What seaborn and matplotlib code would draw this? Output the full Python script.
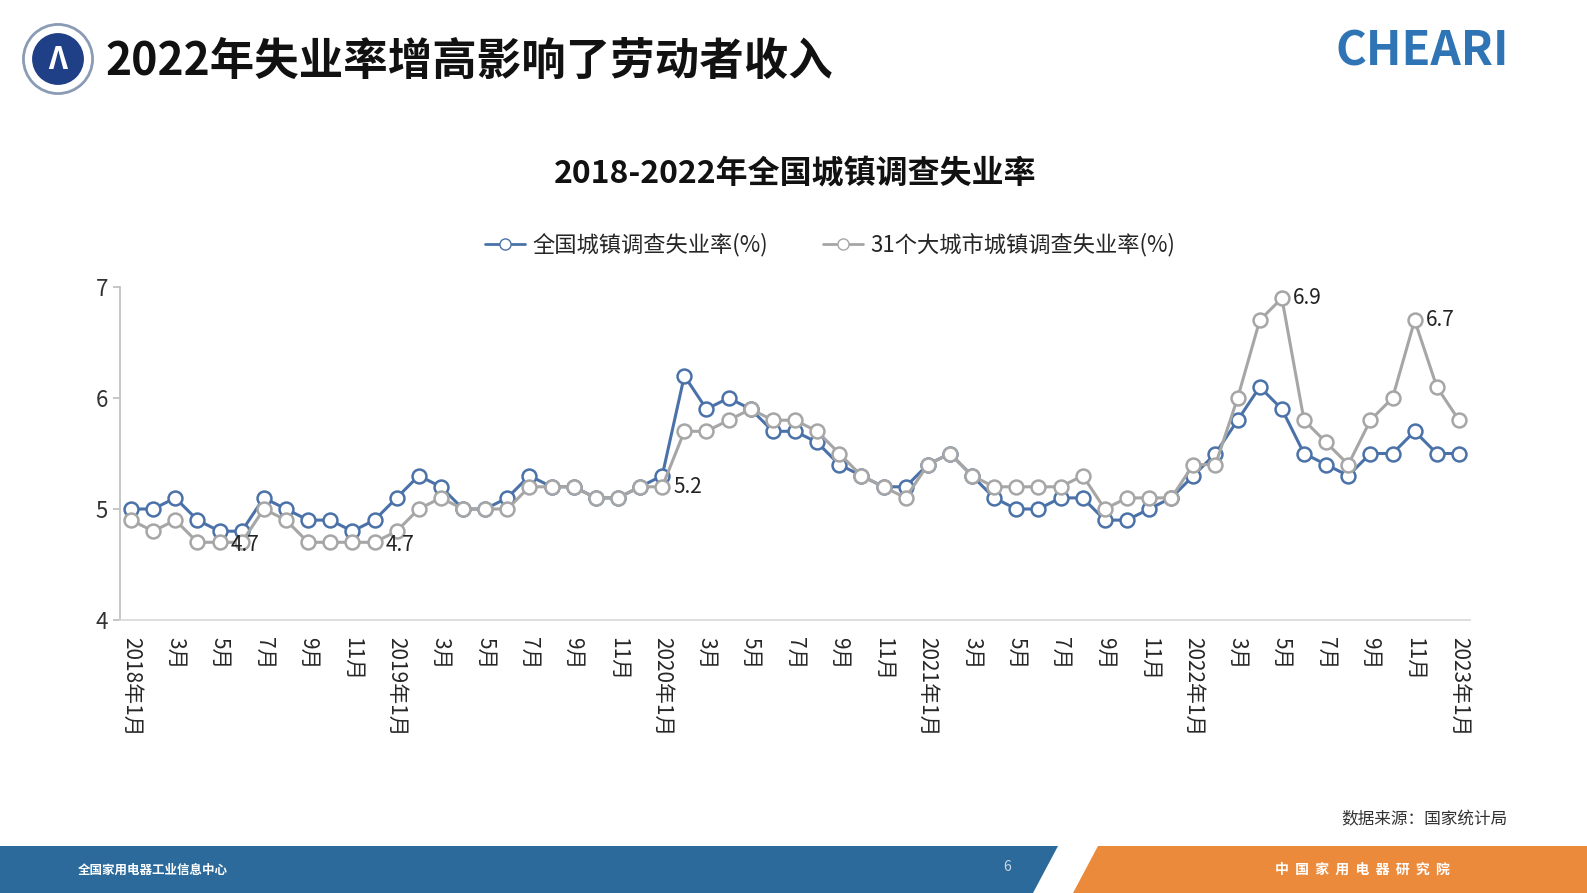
import matplotlib
matplotlib.use("Agg")
import matplotlib.pyplot as plt
import seaborn as sns
import pandas as pd
from matplotlib.patches import Polygon, Circle
from matplotlib.lines import Line2D

sns.set_theme(style="white")
plt.rcParams['font.family'] = ['Noto Sans CJK SC', 'DejaVu Sans']

national = [5.0,5.0,5.1,4.9,4.8,4.8,5.1,5.0,4.9,4.9,4.8,4.9,
            5.1,5.3,5.2,5.0,5.0,5.1,5.3,5.2,5.2,5.1,5.1,5.2,
            5.3,6.2,5.9,6.0,5.9,5.7,5.7,5.6,5.4,5.3,5.2,5.2,
            5.4,5.5,5.3,5.1,5.0,5.0,5.1,5.1,4.9,4.9,5.0,5.1,
            5.3,5.5,5.8,6.1,5.9,5.5,5.4,5.3,5.5,5.5,5.7,5.5,
            5.5]
cities = [4.9,4.8,4.9,4.7,4.7,4.7,5.0,4.9,4.7,4.7,4.7,4.7,
          4.8,5.0,5.1,5.0,5.0,5.0,5.2,5.2,5.2,5.1,5.1,5.2,
          5.2,5.7,5.7,5.8,5.9,5.8,5.8,5.7,5.5,5.3,5.2,5.1,
          5.4,5.5,5.3,5.2,5.2,5.2,5.2,5.3,5.0,5.1,5.1,5.1,
          5.4,5.4,6.0,6.7,6.9,5.8,5.6,5.4,5.8,6.0,6.7,6.1,
          5.8]
tick_labels = []
for i in range(61):
    y, m = 2018 + i // 12, i % 12 + 1
    if i % 2 == 0:
        tick_labels.append(f"{y}年{m}月" if m == 1 else f"{m}月")
labels = {4: "4.7", 11: "4.7", 24: "5.2", 52: "6.9", 58: "6.7"}
name_n = "全国城镇调查失业率(%)"
name_c = "31个大城市城镇调查失业率(%)"

df = pd.DataFrame({"idx": list(range(61)) * 2,
                   "val": national + cities,
                   "series": [name_n] * 61 + [name_c] * 61})

fig = plt.figure(figsize=(15.87, 8.93), dpi=100)
W, H = 1587, 893
ax = fig.add_axes([120/W, 1-620/H, 1350/W, 333/H])
blue, grey = "#4a72a8", "#a6a6a6"
sns.lineplot(data=df, x="idx", y="val", hue="series", palette=[blue, grey],
             hue_order=[name_n, name_c], marker="o", markersize=10,
             markerfacecolor="white", markeredgewidth=1.8, linewidth=2.2,
             ax=ax, legend=False)
for ln, c in zip(ax.get_lines(), [blue, grey]):
    ln.set_markeredgecolor(c)
for i, t in labels.items():
    ax.text(i + 0.5, cities[i] - (0.02 if cities[i] < 5 else 0), t, fontsize=15,
            va="center", ha="left", color="#222222")
ax.set_xlim(-0.5, 60.5)
ax.set_ylim(4, 7)
ax.set_yticks([4, 5, 6, 7])
ax.set_xticks(range(0, 61, 2))
ax.set_xticklabels(tick_labels, rotation=-90, fontsize=15, va="top", ha="center")
ax.tick_params(axis="y", labelsize=16, length=5, left=True, color="#bfbfbf")
ax.tick_params(axis="x", pad=6)
ax.set_xlabel(""); ax.set_ylabel("")
for s in ["top", "right"]:
    ax.spines[s].set_visible(False)
ax.spines["left"].set_color("#bfbfbf")
ax.spines["bottom"].set_color("#d9d9d9")
for lab in ax.get_yticklabels():
    lab.set_color("#333333")

h = [Line2D([], [], color=blue, marker="o", mfc="white", mec=blue, lw=2, ms=8),
     Line2D([], [], color=grey, marker="o", mfc="white", mec=grey, lw=2, ms=8)]
fig.legend(h, [name_n, name_c], loc="center", bbox_to_anchor=(830/W, 1-245/H),
           ncol=2, frameon=False, fontsize=16, handlelength=1.8, columnspacing=2.5,
           handletextpad=0.3)

fig.text(795/W, 1-174/H, "2018-2022年全国城镇调查失业率", fontsize=23, fontweight="bold",
         ha="center", va="center", color="#111111")
fig.text(105/W, 1-62/H, "2022年失业率增高影响了劳动者收入", fontsize=32, fontweight="bold",
         ha="left", va="center", color="#111111")
lax = fig.add_axes([22/W, 1-95/H, 72/W, 72/H]); lax.set_axis_off()
lax.add_patch(Circle((0.5, 0.5), 0.48, fc="white", ec="#8a9bb5", lw=2))
lax.add_patch(Circle((0.5, 0.5), 0.36, fc="#1f3f86", ec="none"))
lax.text(0.5, 0.48, "Λ", color="white", fontsize=22, ha="center", va="center", fontweight="bold")
lax.set_xlim(0, 1); lax.set_ylim(0, 1)
fig.text(1335/W, 1-52/H, "CHEARI", fontsize=34, fontweight="bold", color="#2f74b5",
         ha="left", va="center")
fig.text(1508/W, 1-820/H, "数据来源：国家统计局", fontsize=12, ha="right", va="center", color="#333333")

fax = fig.add_axes([0, 0, 1, 1]); fax.set_axis_off(); fax.set_zorder(-1)
fax.set_xlim(0, W); fax.set_ylim(H, 0)
fax.add_patch(Polygon([[0, 846], [1058, 846], [1033, 893], [0, 893]], fc="#2b6a9a", ec="none"))
fax.add_patch(Polygon([[1098, 846], [W, 846], [W, 893], [1073, 893]], fc="#ec8a3c", ec="none"))
fax.text(78, 870, "全国家用电器工业信息中心", fontsize=9, color="white", va="center", fontweight="bold")
fax.text(1003, 867, "6", fontsize=10, color="#cfd8e3", va="center")
fax.text(1275, 870, "中  国  家  用  电  器  研  究  院", fontsize=10, color="white",
         va="center", fontweight="bold")

fig.savefig("out.png", dpi=100)
